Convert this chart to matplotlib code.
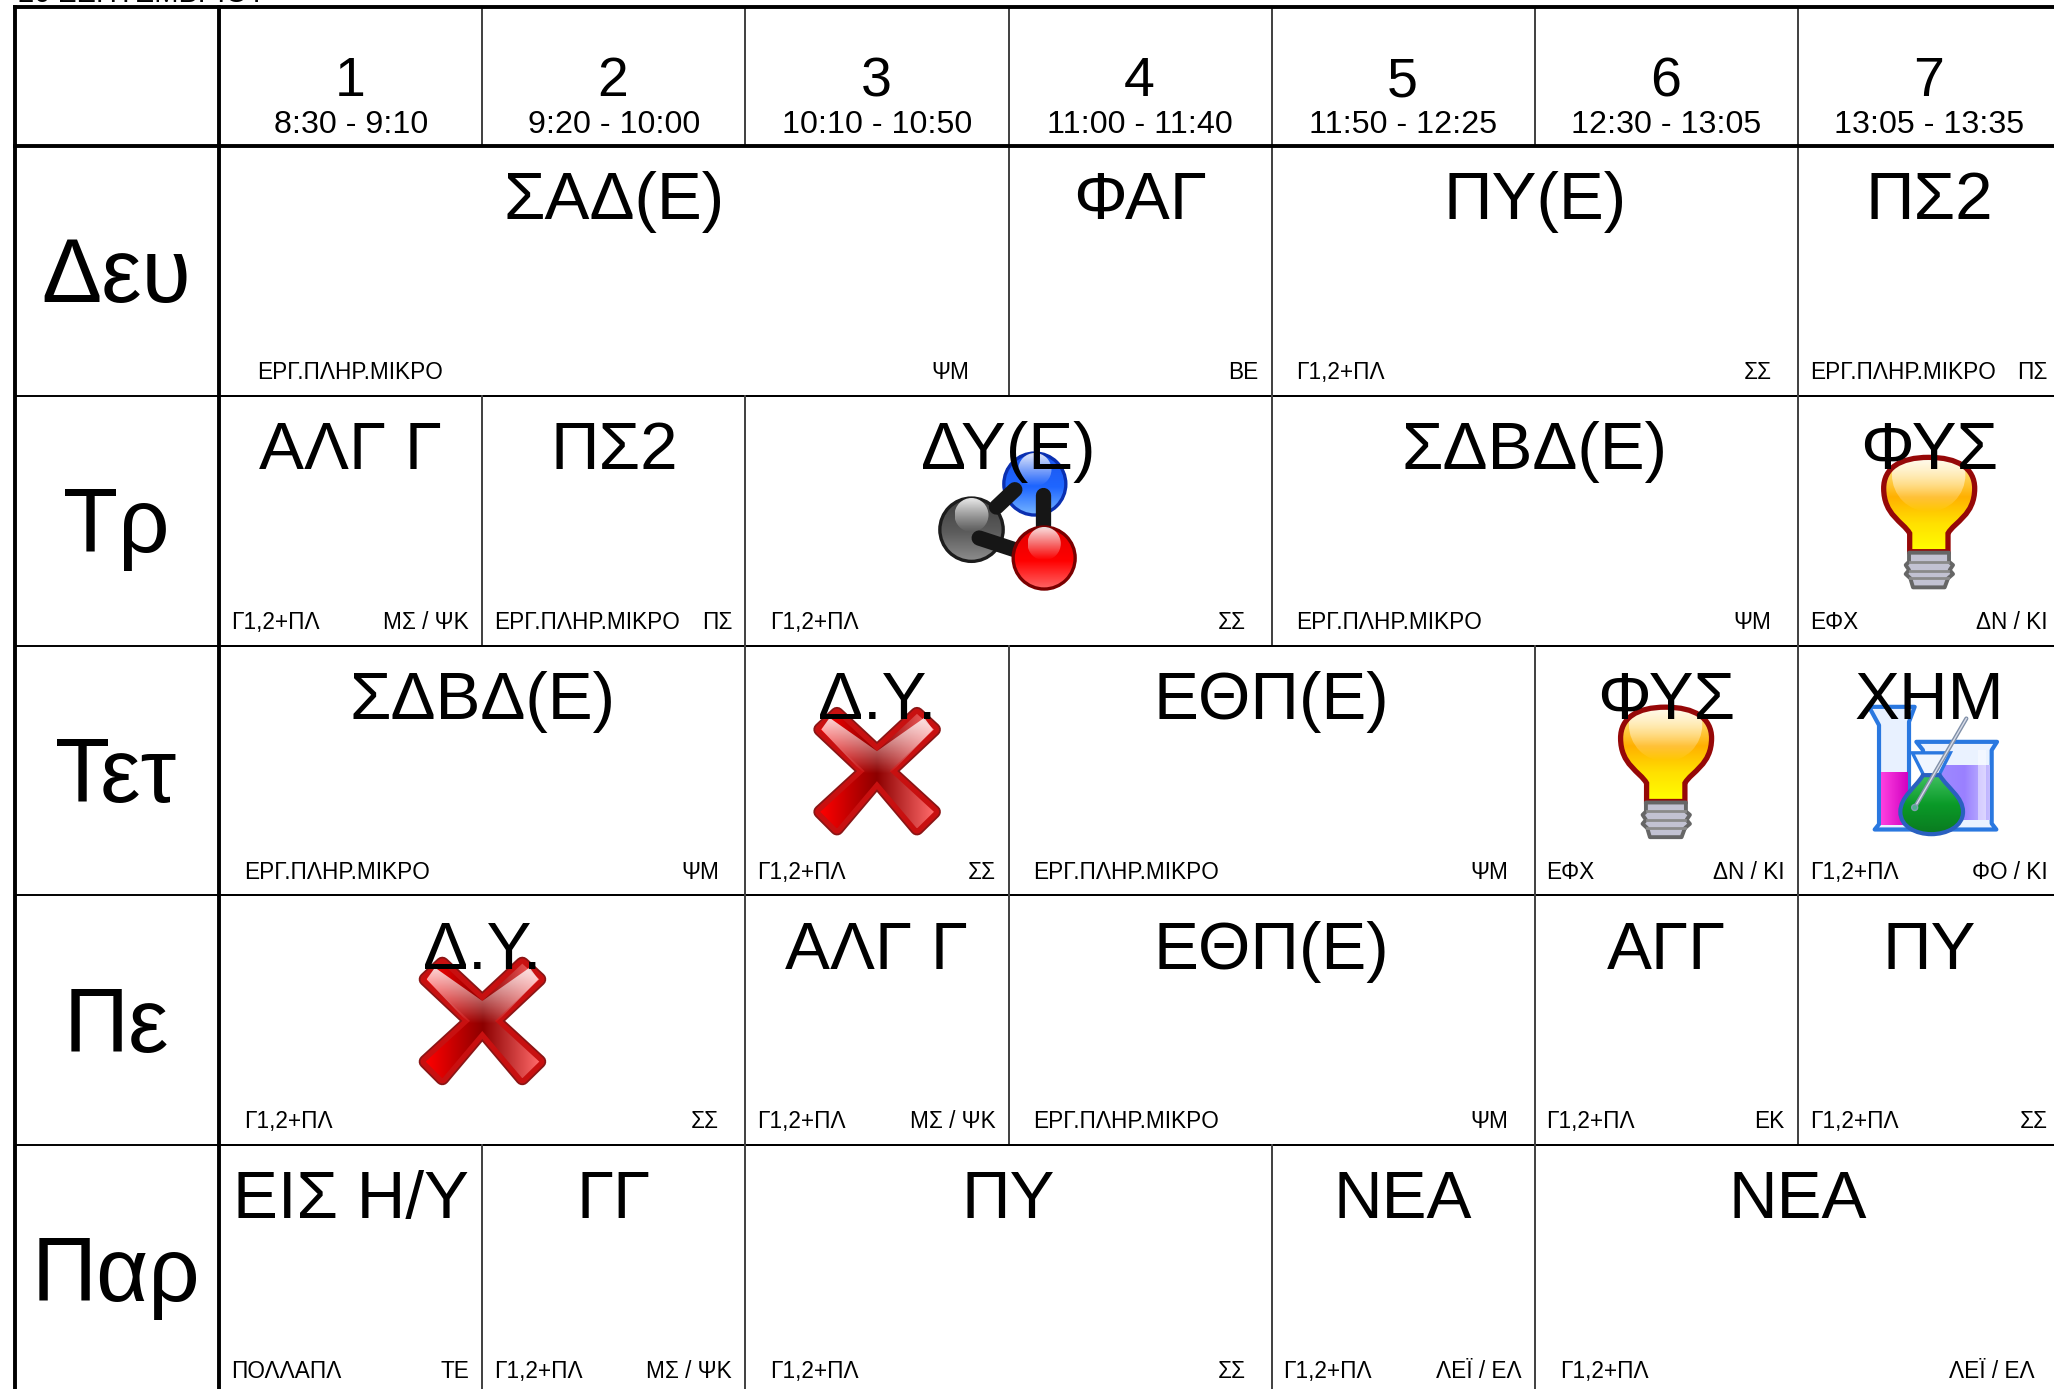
import matplotlib
matplotlib.use("Agg")
import matplotlib.pyplot as plt
import numpy as np
from matplotlib.patches import Circle, Polygon, PathPatch, Rectangle
from matplotlib.path import Path

plt.rcParams['font.family'] = ['Liberation Sans', 'DejaVu Sans']

# Timetable content
days = ["Δευ", "Τρ", "Τετ", "Πε", "Παρ"]
periods = ["1", "2", "3", "4", "5", "6", "7"]
times = ["8:30 - 9:10", "9:20 - 10:00", "10:10 - 10:50", "11:00 - 11:40",
         "11:50 - 12:25", "12:30 - 13:05", "13:05 - 13:35"]

LAB = "ΕΡΓ.ΠΛΗΡ.ΜΙΚΡΟ"
G12 = "Γ1,2+ΠΛ"

# subject, span, left note, right note, icon
mon = [("ΣΑΔ(Ε)", 3, LAB, "ΨΜ", None), ("ΦΑΓ", 1, "", "ΒΕ", None),
       ("ΠΥ(Ε)", 2, G12, "ΣΣ", None), ("ΠΣ2", 1, LAB, "ΠΣ", None)]
tue = [("ΑΛΓ Γ", 1, G12, "ΜΣ / ΨΚ", None), ("ΠΣ2", 1, LAB, "ΠΣ", None),
       ("ΔΥ(Ε)", 2, G12, "ΣΣ", "mol"), ("ΣΔΒΔ(Ε)", 2, LAB, "ΨΜ", None),
       ("ΦΥΣ", 1, "ΕΦΧ", "ΔΝ / ΚΙ", "bulb")]
wed = [("ΣΔΒΔ(Ε)", 2, LAB, "ΨΜ", None), ("Δ.Υ.", 1, G12, "ΣΣ", "x"),
       ("ΕΘΠ(Ε)", 2, LAB, "ΨΜ", None), ("ΦΥΣ", 1, "ΕΦΧ", "ΔΝ / ΚΙ", "bulb"),
       ("ΧΗΜ", 1, G12, "ΦΟ / ΚΙ", "flask")]
thu = [("Δ.Υ.", 2, G12, "ΣΣ", "x"), ("ΑΛΓ Γ", 1, G12, "ΜΣ / ΨΚ", None),
       ("ΕΘΠ(Ε)", 2, LAB, "ΨΜ", None), ("ΑΓΓ", 1, G12, "ΕΚ", None),
       ("ΠΥ", 1, G12, "ΣΣ", None)]
fri = [("ΕΙΣ Η/Υ", 1, "ΠΟΛΛΑΠΛ", "ΤΕ", None), ("ΓΓ", 1, G12, "ΜΣ / ΨΚ", None),
       ("ΠΥ", 2, G12, "ΣΣ", None), ("ΝΕΑ", 1, G12, "ΛΕΪ / ΕΛ", None),
       ("ΝΕΑ", 2, G12, "ΛΕΪ / ΕΛ", None)]
week = [mon, tue, wed, thu, fri]

W, H = 2054, 1389
X0, CW = 219.2, 263.1     # first period line, column width in pixels
Y0, RH = 146.0, 249.8     # first day line, row height in pixels
LEFT = -(X0 - 15.0) / CW
HEAD = -(Y0 - 7.0) / RH

fig = plt.figure(figsize=(W / 100, H / 100), dpi=100)
ax = fig.add_axes([0, 0, 1, 1])
ax.set_xlim(-X0 / CW, (W - X0) / CW)
ax.set_ylim((H - Y0) / RH, -Y0 / RH)
ax.set_axis_off()


def gradient(a, patch, stops, horizontal=False):
    # fill a patch with a linear gradient, clipped to its outline
    pts = patch.get_path().transformed(patch.get_patch_transform()).vertices
    x0, x1, y0, y1 = pts[:, 0].min(), pts[:, 0].max(), pts[:, 1].min(), pts[:, 1].max()
    t = np.linspace(0, 1, 128)
    pos = [s[0] for s in stops]
    rgba = np.zeros((128, 4))
    for k in range(4):
        rgba[:, k] = np.interp(t, pos, [matplotlib.colors.to_rgba(s[1], s[2] if len(s) > 2 else 1)[k] for s in stops])
    img = rgba[:, None, :] if not horizontal else rgba[None, :, :]
    im = a.imshow(img, extent=(x0, x1, y1, y0), aspect='auto', interpolation='bilinear', zorder=patch.get_zorder())
    im.set_clip_path(patch.get_path(), patch.get_transform())
    return im


def ball(a, cx, cy, r, edge, dark, mid, light, z=1):
    base = Circle((cx, cy), r, fc='none', ec='none', zorder=z)
    a.add_patch(base)
    gradient(a, base, [(0, dark), (0.55, mid), (1, light)]).set_zorder(z)
    a.add_patch(Circle((cx, cy), r - 3, fc='none', ec=edge, lw=2.4, zorder=z + 0.1))
    top = Circle((cx, cy - r * 0.45), r * 0.52, fc='none', ec='none')
    a.add_patch(top)
    gradient(a, top, [(0, 'white', 0.9), (1, 'white', 0.0)]).set_zorder(z + 0.2)


def molecule(a):
    # blue and grey balls sit under the bonds, the red one on top
    ball(a, 405, 253, 96, '#0a2fb0', '#1a55ee', '#1f66ff', '#79b8ff')
    ball(a, 215, 390, 98, '#1c1c1c', '#3c3c3c', '#5c5c5c', '#8e8e8e')
    for xs, ys in [([290, 345], [322, 270]), ([428, 428], [285, 400]), ([238, 360], [415, 455])]:
        a.plot(xs, ys, color='#161616', lw=11, solid_capstyle='round', zorder=6)
    ball(a, 433, 475, 96, '#7a0000', '#e00000', '#ff0000', '#ff6a6a', z=7)


def cross(a):
    pts = [(172, 103), (292, 215), (412, 103), (463, 150), (330, 275),
           (463, 397), (412, 447), (292, 305), (172, 447), (122, 397),
           (255, 275), (122, 150)]
    a.add_patch(Polygon(pts, closed=True, fc='#8a1515', ec='#8a1515', lw=10, joinstyle='round', zorder=1))
    a.add_patch(Polygon(pts, closed=True, fc='#c81010', ec='#c81010', lw=7.5, joinstyle='round', zorder=2))
    im = gradient(a, Polygon(pts, closed=True, transform=a.transData),
                  [(0, '#ff0000'), (0.5, '#8c0000'), (1, '#ff6a6a')], horizontal=True)
    im.set_zorder(3)
    hi = Polygon([(150, 115), (292, 215), (434, 115), (460, 150), (352, 262),
                  (325, 285), (260, 285), (232, 262), (125, 150)], closed=True, fc='none', ec='none',
                 transform=a.transData)
    a.add_patch(hi)
    gradient(a, hi, [(0, 'white', 0.85), (1, 'white', 0.0)]).set_zorder(5)


def bulb(a):
    codes = [Path.MOVETO, Path.LINETO] + [Path.CURVE4] * 12 + [Path.LINETO, Path.LINETO, Path.CLOSEPOLY]
    v = [(390, 455), (390, 400),
         (370, 365), (312, 345), (312, 265),
         (312, 205), (360, 172), (447, 172),
         (535, 172), (585, 205), (585, 265),
         (585, 345), (525, 365), (505, 400),
         (505, 455), (390, 455), (390, 455)]
    path = Path(v, codes)
    glass = PathPatch(path, fc='none', ec='none')
    a.add_patch(glass)
    gradient(a, glass, [(0, '#ffe9a0'), (0.22, '#ffd050'), (0.42, '#ffb000'), (0.7, '#ffe000'), (1, '#ffff00')])
    a.add_patch(PathPatch(path, fc='none', ec='#960808', lw=3.8, zorder=4))
    top = Circle((447, 225), 110, fc='none', ec='none')
    a.add_patch(top)
    gradient(a, top, [(0, 'white', 0.0), (0.25, 'white', 0.85), (1, 'white', 0.0)]).set_zorder(3.5)
    base = Polygon([(388, 458), (508, 458), (508, 485), (520, 495), (510, 510), (520, 522), (505, 535),
                    (495, 562), (400, 562), (392, 535), (378, 522), (388, 510), (378, 495), (388, 485)],
                   closed=True, fc='#c2c2d2', ec='#666666', lw=2.8, joinstyle='round', zorder=4)
    a.add_patch(base)
    for y in (485, 512, 535):
        a.plot([392, 505], [y, y], color='#8a8a8a', lw=2, zorder=5)


def flask(a):
    blue = '#2a78e0'
    cyl = Polygon([(268, 140), (405, 140), (388, 185), (388, 492), (400, 508), (285, 508),
                   (298, 492), (298, 195)], closed=True, fc='#e8f1ff', ec=blue, lw=3, joinstyle='round', zorder=2)
    a.add_patch(cyl)
    pink = Polygon([(303, 335), (385, 335), (385, 495), (303, 495)], closed=True, fc='none', ec='none', zorder=3)
    a.add_patch(pink)
    gradient(a, pink, [(0, '#ff40e0'), (1, '#d000c0')], horizontal=True)
    bkr = Polygon([(410, 245), (652, 245), (636, 270), (636, 490), (650, 508), (420, 508), (430, 490), (430, 270)],
                  closed=True, fc='#eaf2ff', ec=blue, lw=3, joinstyle='round', zorder=3)
    a.add_patch(bkr)
    vio = Polygon([(436, 315), (632, 315), (632, 480), (436, 480)], closed=True, fc='none', ec='none', zorder=4)
    a.add_patch(vio)
    gradient(a, vio, [(0, '#a090ff'), (0.6, '#9a80ff'), (1, '#c8c0ff')], horizontal=True)
    a.add_patch(Rectangle((595, 270), 25, 210, fc='white', alpha=0.45, ec='none', zorder=5))
    neck = Polygon([(398, 278), (512, 278), (478, 345), (432, 345)], closed=True, fc='#f0f6ff', ec=blue, lw=2.4, zorder=6)
    a.add_patch(neck)
    v = [(430, 345), (405, 385), (362, 410), (362, 455), (362, 500), (410, 522), (455, 522),
         (500, 522), (550, 500), (550, 455), (550, 410), (505, 385), (480, 345), (430, 345)]
    path = Path(v, [Path.MOVETO] + [Path.CURVE4] * 12 + [Path.CLOSEPOLY])
    body = PathPatch(path, fc='none', ec='none', zorder=7)
    a.add_patch(body)
    gradient(a, body, [(0, '#40c060'), (0.5, '#0a9a28'), (1, '#0a7a20')]).set_zorder(7)
    a.add_patch(PathPatch(path, fc='none', ec='#2a60c0', lw=3, zorder=8))
    a.plot([405, 560], [442, 175], color='#8090a8', lw=3, solid_capstyle='round', zorder=9)
    a.plot([405, 560], [442, 175], color='#d8dce8', lw=1, zorder=10)
    a.add_patch(Circle((405, 442), 9, fc='#50b090', ec='#80a0b0', lw=1, zorder=10))


# icon function and its centre in drawing units
icons = {"mol": (molecule, 326, 363), "x": (cross, 292, 273),
         "bulb": (bulb, 449, 362), "flask": (flask, 449, 331)}
HALF = 360


def place_icon(name, xc, yc):
    fn, cx, cy = icons[name]
    px, py = ax.transData.transform((xc, yc))
    half = HALF / 3.0
    ia = ax.inset_axes([(px - half) / W, (py - half) / H, 2 * half / W, 2 * half / H], zorder=5)
    ia.set_axis_off()
    fn(ia)
    ia.set_xlim(cx - HALF, cx + HALF)
    ia.set_ylim(cy + HALF, cy - HALF)


def cell(x0, y0, x1, y1):
    ax.plot([x0, x1], [y0, y0], color='black', lw=1.4, zorder=2)
    ax.plot([x0, x1], [y1, y1], color='black', lw=1.4, zorder=2)
    ax.plot([x0, x0], [y0, y1], color='#444444', lw=1.4, zorder=2)
    ax.plot([x1, x1], [y0, y1], color='#444444', lw=1.4, zorder=2)


# header row
for i, (num, tm) in enumerate(zip(periods, times)):
    cell(i, HEAD, i + 1, 0)
    ax.text(i + 0.497, -0.2, num, ha='center', va='baseline', fontsize=40, zorder=10)
    ax.text(i + 0.5, -0.0507, tm, ha='center', va='baseline', fontsize=23.2, zorder=10)

# lessons
for r, row in enumerate(week):
    ax.text(LEFT / 2 - 0.004, r + 0.625, days[r], ha='center', va='baseline', fontsize=65, zorder=10)
    c = 0
    for subject, span, left, right, icon in row:
        cell(c, r, c + span, r + 1)
        ax.text(c + span / 2, r + 0.293, subject, ha='center', va='baseline', fontsize=48.5, zorder=10)
        ax.text(c + 0.05 * span - 0.005, r + 0.933, left, ha='left', va='baseline', fontsize=16.3, zorder=10)
        ax.text(c + span - 0.05 * span, r + 0.933, right, ha='right', va='baseline', fontsize=16.3, zorder=10)
        if icon:
            place_icon(icon, c + span / 2, r + 0.5)
        c += span

# heavy frame lines
thick = dict(color='black', lw=2.8, zorder=3, solid_capstyle='projecting')
ax.plot([LEFT, 7.2], [HEAD, HEAD], **thick)
ax.plot([LEFT, 7.2], [0, 0], **thick)
ax.plot([LEFT, LEFT], [HEAD, 5.2], **thick)
ax.plot([0, 0], [HEAD, 5.2], **thick)
for r in range(1, 6):
    ax.plot([LEFT, 0], [r, r], color='black', lw=1.4, zorder=2)

# line of text cut off by the top edge, as in the picture
ax.text(LEFT + 0.01, -0.5765, "20 ΣΕΠΤΕΜΒΡΙΟΥ", ha='left', va='baseline', fontsize=21, zorder=10)

fig.savefig("out.png", dpi=100)
